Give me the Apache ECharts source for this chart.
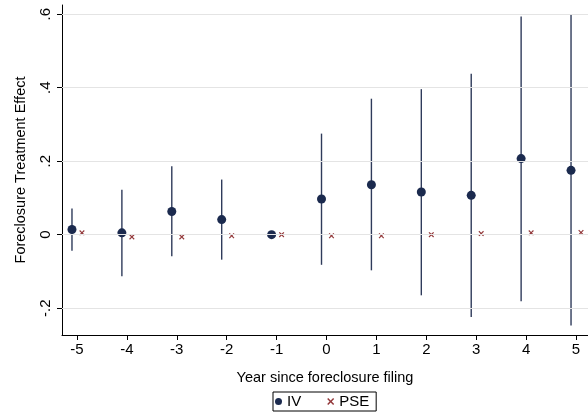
<!DOCTYPE html>
<html>
<head>
<meta charset="utf-8">
<script src="https://cdn.jsdelivr.net/npm/echarts@6/dist/echarts.min.js"></script>
<style>html,body{margin:0;padding:0;background:#fff}#c{width:588px;height:415px}</style>
</head>
<body>
<div id="c"></div>
<script>
// Data
const years = [-5, -4, -3, -2, -1, 0, 1, 2, 3, 4, 5];
const ivEst = [0.014, 0.005, 0.063, 0.041, 0.000, 0.097, 0.136, 0.116, 0.107, 0.207, 0.175];
const ivLow = [-0.044, -0.113, -0.059, -0.068, null, -0.082, -0.097, -0.165, -0.224, -0.181, -0.247];
const ivHigh = [0.071, 0.122, 0.186, 0.150, null, 0.275, 0.370, 0.396, 0.438, 0.594, 0.599];
const pseEst = [0.005, -0.006, -0.006, -0.003, 0.000, -0.003, -0.003, 0.000, 0.003, 0.005, 0.006];
const yTicks = [-0.2, 0, 0.2, 0.4, 0.6];
const yTickLabels = ['-.2', '0', '.2', '.4', '.6'];
const xTicks = [-5, -4, -3, -2, -1, 0, 1, 2, 3, 4, 5];

const NAVY = '#1b2a4e';
const RED = '#93383a';
const OFF = 0.1;
const FONT = 'Liberation Sans, Arial, Helvetica, sans-serif';
const xSym = 'path://M0,1.5L1.5,0L5,3.5L8.5,0L10,1.5L6.5,5L10,8.5L8.5,10L5,6.5L1.5,10L0,8.5L3.5,5Z';

const chart = echarts.init(document.getElementById('c'), null, {renderer: 'canvas'});
chart.setOption({
  backgroundColor: '#fff',
  animation: false,
  textStyle: {fontFamily: FONT},
  grid: {left: 62, right: 0, top: 5, bottom: 80, containLabel: false},
  xAxis: {
    type: 'value', min: -5.3, max: 5.24,
    name: 'Year since foreclosure filing', nameLocation: 'middle', nameGap: 35,
    nameTextStyle: {color: '#000', fontSize: 14.5, fontFamily: FONT},
    axisLine: {show: true, onZero: false, lineStyle: {color: '#000', width: 1}},
    axisTick: {show: true, length: 5, customValues: xTicks, lineStyle: {color: '#000'}},
    axisLabel: {customValues: xTicks, color: '#000', fontSize: 15, margin: 7, fontFamily: FONT},
    splitLine: {show: false}
  },
  yAxis: {
    type: 'value', min: -0.273, max: 0.625,
    name: 'Foreclosure Treatment Effect', nameLocation: 'middle', nameGap: 34, nameRotate: 90,
    nameTextStyle: {color: '#000', fontSize: 14.5, fontFamily: FONT},
    axisLine: {show: true, onZero: false, lineStyle: {color: '#000', width: 1}},
    axisTick: {show: true, length: 5, customValues: yTicks, lineStyle: {color: '#000'}},
    axisLabel: {
      customValues: yTicks, rotate: 90, color: '#000', fontSize: 15, margin: 9, fontFamily: FONT,
      formatter: v => { const i = yTicks.findIndex(t => Math.abs(t - v) < 1e-9); return i >= 0 ? yTickLabels[i] : ''; }
    },
    splitLine: {show: false}
  },
  legend: {
    data: ['IV', 'PSE'], left: 273, top: 392,
    borderColor: '#000', borderWidth: 1, borderRadius: 0,
    padding: [2, 7, 2, 2], itemGap: 26, itemWidth: 7, itemHeight: 7,
    textStyle: {color: '#000', fontSize: 15, fontFamily: FONT}
  },
  series: [
    {
      name: 'gridlines', type: 'line', data: [], z: 0, silent: true,
      markLine: {
        silent: true, symbol: ['none', 'none'], label: {show: false},
        lineStyle: {color: '#e4e4e4', type: 'solid', width: 1},
        data: yTicks.map(v => ({yAxis: v}))
      }
    },
    {
      name: 'CI', type: 'custom', z: 2, silent: true,
      data: years.map((y, i) => [y, ivLow[i], ivHigh[i]]),
      renderItem: (params, api) => {
        const lo = api.value(1), hi = api.value(2);
        if (lo == null || hi == null || isNaN(lo) || isNaN(hi)) return null;
        const x = api.value(0) - OFF;
        const p1 = api.coord([x, lo]);
        const p2 = api.coord([x, hi]);
        return {type: 'line', shape: {x1: p1[0], y1: p1[1], x2: p2[0], y2: p2[1]},
          style: {stroke: '#2f3b5b', lineWidth: 1.4}};
      }
    },
    {
      name: 'IV', type: 'scatter', z: 3,
      symbol: 'circle', symbolSize: 9,
      itemStyle: {color: NAVY, opacity: 1},
      data: years.map((y, i) => [y - OFF, ivEst[i]])
    },
    {
      name: 'PSE', type: 'scatter', z: 3,
      symbol: xSym, symbolSize: 5.5,
      itemStyle: {color: RED, opacity: 1},
      data: years.map((y, i) => [y + OFF, pseEst[i]])
    }
  ]
});
</script>
</body>
</html>
